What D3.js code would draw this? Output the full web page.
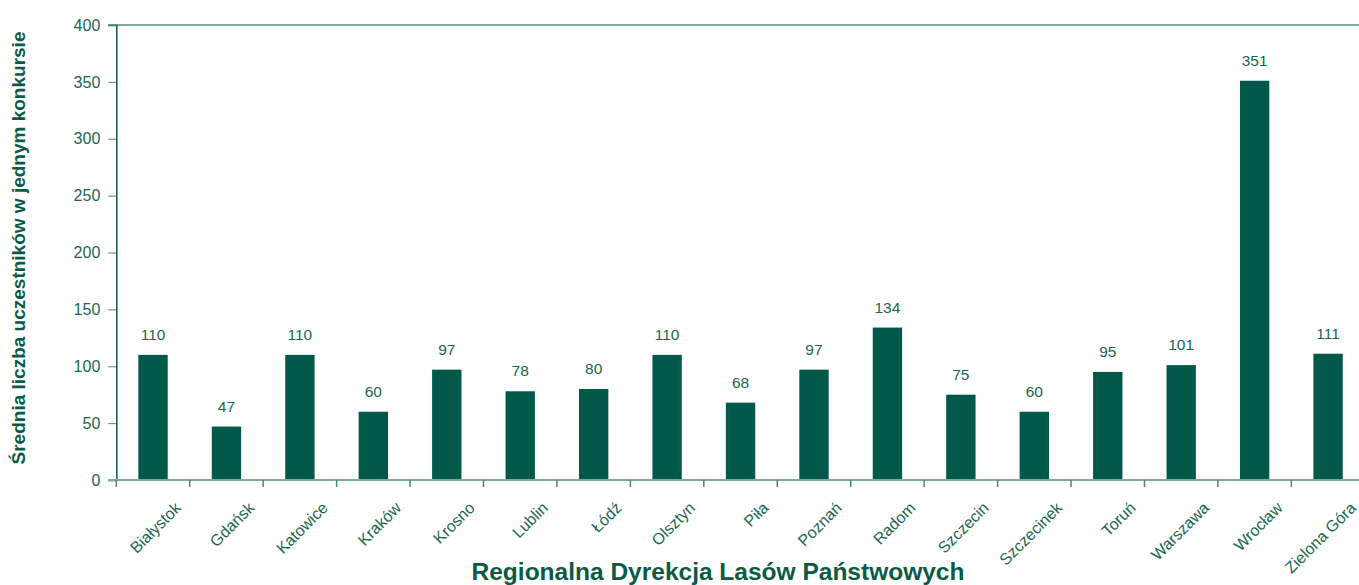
<!DOCTYPE html>
<html><head><meta charset="utf-8">
<script src="https://cdn.jsdelivr.net/npm/d3@7"></script>
<style>body{margin:0;background:#fff;} svg{display:block;font-family:"Liberation Sans",Arial,sans-serif;}</style>
</head><body>
<svg id="c" width="1359" height="585"></svg>
<script>
const categories = ["Białystok","Gdańsk","Katowice","Kraków","Krosno","Lublin","Łódź","Olsztyn","Piła","Poznań","Radom","Szczecin","Szczecinek","Toruń","Warszawa","Wrocław","Zielona Góra"];
const values = [110,47,110,60,97,78,80,110,68,97,134,75,60,95,101,351,111];
const yTicks = [0,50,100,150,200,250,300,350,400];
const yTitle = "Średnia liczba uczestników w jednym konkursie";
const xTitle = "Regionalna Dyrekcja Lasów Państwowych";

const svg = d3.select("#c");
const m = {left:116.3, top:25, bottom:480, right:1364.8};
const x = d3.scaleBand().domain(categories).range([m.left, m.right]).paddingInner(0.6).paddingOuter(0.3);
const y = d3.scaleLinear().domain([0,400]).range([m.bottom, m.top]);
const txt = "#1b6651", bar = "#02594a", light = "#80aa9c";

// top line
svg.append("line").attr("x1", m.left-8).attr("x2", 1359).attr("y1", y(400)).attr("y2", y(400)).attr("stroke", light).attr("stroke-width",2);

// bars
svg.selectAll("rect.b").data(values).join("rect")
  .attr("x",(d,i)=>x(categories[i])).attr("width",x.bandwidth())
  .attr("y",d=>y(d)).attr("height",d=>y(0)-y(d)).attr("fill",bar);

// value labels
svg.selectAll("text.v").data(values).join("text")
  .attr("x",(d,i)=>x(categories[i])+x.bandwidth()/2).attr("y",d=>y(d)-15)
  .attr("text-anchor","middle").attr("font-size",15.5).attr("fill",txt).text(d=>d);

// y axis
const ya = svg.append("g").attr("transform",`translate(${m.left},0)`)
  .call(d3.axisLeft(y).tickValues(yTicks).tickSize(8).tickPadding(8));
ya.select(".domain").attr("stroke","#0b5a45").attr("stroke-width",1.5);
ya.selectAll(".tick line").attr("stroke","#4c8576");
ya.selectAll(".tick text").attr("font-size",16).attr("fill",txt).attr("font-family","Liberation Sans, Arial, sans-serif");

// x axis line & ticks (boundaries)
svg.append("line").attr("x1",m.left-8).attr("x2",1359).attr("y1",m.bottom).attr("y2",m.bottom).attr("stroke",light).attr("stroke-width",2);
const step = x.step();
const bounds = d3.range(categories.length).map(i=>x(categories[i]) - (step - x.bandwidth())/2);
svg.selectAll("line.xt").data(bounds).join("line")
  .attr("x1",d=>d).attr("x2",d=>d).attr("y1",m.bottom).attr("y2",m.bottom+7).attr("stroke","#4c8576").attr("stroke-width",1.5);

// x labels
svg.selectAll("text.xl").data(categories).join("text")
  .attr("transform",d=>`translate(${x(d)+x.bandwidth()/2+21},${m.bottom+21}) rotate(-45)`)
  .attr("text-anchor","end").attr("dy","0.7em").attr("font-size",16).attr("fill",txt).text(d=>d);

// titles
svg.append("text").attr("x",718).attr("y",580).attr("text-anchor","middle")
  .attr("font-size",24.5).attr("font-weight","bold").attr("fill","#0b5a45").text(xTitle);
svg.append("text").attr("transform",`translate(25,248) rotate(-90)`).attr("text-anchor","middle")
  .attr("font-size",19).attr("font-weight","bold").attr("fill","#0b5a45").text(yTitle);
</script>
</body></html>
